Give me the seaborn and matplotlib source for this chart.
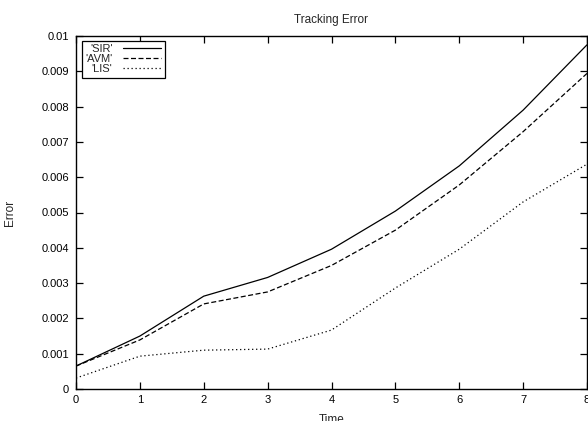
import matplotlib
matplotlib.use("Agg")
import matplotlib.pyplot as plt
import seaborn as sns
import pandas as pd

time = [0, 1, 2, 3, 4, 5, 6, 7, 8]
sir = [0.00065, 0.0015, 0.00263, 0.00316, 0.00396, 0.00504, 0.00632, 0.0079, 0.00975]
avm = [0.00065, 0.00139, 0.00241, 0.00275, 0.0035, 0.0045, 0.00578, 0.00729, 0.00894]
lis = [0.00031, 0.00093, 0.0011, 0.00113, 0.00167, 0.00286, 0.00396, 0.0053, 0.00637]
labels = ["'SIR'", "'AVM'", "'LIS'"]
yticks = [0, 0.001, 0.002, 0.003, 0.004, 0.005, 0.006, 0.007, 0.008, 0.009, 0.01]
ytick_labels = ["0", "0.001", "0.002", "0.003", "0.004", "0.005", "0.006", "0.007", "0.008", "0.009", "0.01"]

sns.set_style("ticks")
plt.rcParams['font.family'] = ['Liberation Sans', 'DejaVu Sans']
plt.rcParams['font.size'] = 8

W, H = 588, 421
L, R, T, B = 76, 587, 36, 389
fig = plt.figure(figsize=(W / 100, H / 100), dpi=100)
ax = fig.add_axes([L / W, 1 - B / H, (R - L) / W, (B - T) / H])

df = pd.DataFrame({"Time": time * 3,
                   "Error": sir + avm + lis,
                   "series": [labels[0]] * 9 + [labels[1]] * 9 + [labels[2]] * 9})

for lab in labels:
    sub = df[df.series == lab]
    sns.lineplot(data=sub, x="Time", y="Error", ax=ax, color="black", lw=0.9, label=lab)

lines = ax.get_lines()
lines[1].set_dashes((4, 2))
lines[2].set_dashes((1, 2.2))

ax.set_xlim(0, 8)
ax.set_ylim(0, 0.01)
ax.set_xticks(time)
ax.set_yticks(yticks)
ax.set_yticklabels(ytick_labels)
ax.tick_params(direction='in', length=5, width=0.9, top=True, right=True, labelsize=8, colors='black')
ax.tick_params(axis='x', pad=4)
ax.tick_params(axis='y', pad=5)
for s in ax.spines.values():
    s.set_visible(True)
    s.set_linewidth(1.0)
    s.set_color('black')

ax.set_title("Tracking Error", fontsize=8.5, pad=9)
ax.set_xlabel("Time", fontsize=8.5)
ax.xaxis.set_label_coords(0.5, -(414 - B) / (B - T))
ax.set_ylabel("Error", fontsize=8.5)
ax.yaxis.set_label_coords(-(L - 16.5) / (R - L), 0.5)

leg = ax.legend(loc='upper left', bbox_to_anchor=(6 / (R - L), 1 - 5 / (B - T)), frameon=True, fancybox=False,
                edgecolor='black', framealpha=1, markerfirst=False, fontsize=8,
                handlelength=3.5, borderpad=0.3, labelspacing=0.0, handletextpad=0.9,
                borderaxespad=0)
leg.get_frame().set_linewidth(0.9)

fig.savefig("out.png", dpi=100)
